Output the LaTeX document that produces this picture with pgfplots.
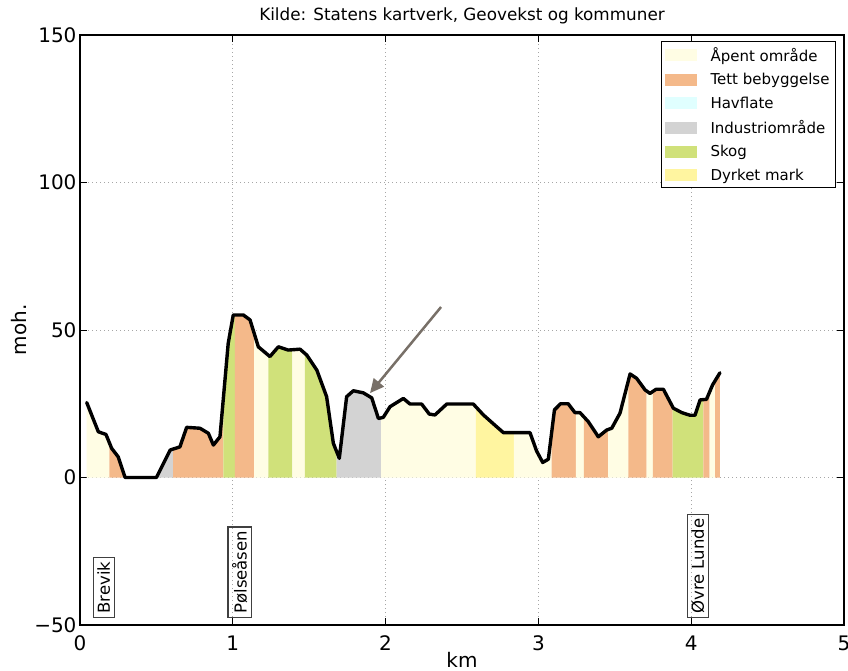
\documentclass[border=0pt]{standalone}
\usepackage{pgfplots}
\pgfplotsset{compat=1.18}
\usepackage{pgfplotstable}
\usepgfplotslibrary{fillbetween}
\usetikzlibrary{arrows.meta}
\usepackage{fontspec}
\setmainfont{DejaVu Sans}
\definecolor{apent}{RGB}{255,253,228}
\definecolor{tett}{RGB}{244,185,138}
\definecolor{hav}{RGB}{224,255,255}
\definecolor{industri}{RGB}{211,211,211}
\definecolor{skog}{RGB}{208,225,122}
\definecolor{dyrket}{RGB}{255,245,160}
\definecolor{arrowc}{RGB}{120,112,104}
\pgfplotstableread{
km elev
0.044 25.4
0.12 15.5
0.17 14.6
0.207 9.9
0.25 7.0
0.295 0.0
0.50 0.0
0.59 9.3
0.654 10.4
0.698 17.0
0.785 16.7
0.84 15.0
0.873 11.0
0.916 13.8
0.97 45.5
1.003 55.1
1.069 55.1
1.113 53.4
1.167 44.3
1.243 41.0
1.298 44.3
1.363 43.2
1.44 43.5
1.484 41.5
1.55 36.4
1.614 27.4
1.658 11.6
1.697 6.5
1.745 27.4
1.789 29.4
1.854 28.7
1.909 27.0
1.953 20.0
1.985 20.4
2.029 24.0
2.116 26.8
2.16 24.9
2.236 24.9
2.286 21.5
2.323 21.2
2.4 24.9
2.574 24.9
2.64 21.2
2.727 17.2
2.771 15.2
2.945 15.2
2.988 9.0
3.028 5.1
3.065 6.2
3.105 22.9
3.145 25.0
3.195 25.0
3.239 22.0
3.272 22.0
3.327 18.9
3.392 13.8
3.447 16.1
3.48 16.7
3.534 21.8
3.6 35.1
3.643 33.6
3.698 29.7
3.73 28.5
3.77 29.9
3.818 29.9
3.883 23.5
3.938 22.0
3.992 21.1
4.025 21.1
4.058 26.3
4.1 26.5
4.14 31.4
4.188 35.5
}\profile
\begin{document}
\begin{tikzpicture}
\begin{axis}[
  set layers,
  scale only axis, width=764pt, height=590pt,
  xmin=0, xmax=5, ymin=-50, ymax=150,
  xtick={0,1,2,3,4,5}, xticklabels={0,1,2,3,4,5},
  ytick={-50,0,50,100,150}, yticklabels={−50,0,50,100,150},
  tick align=inside, major tick length=7pt,
  every tick/.style={black, line width=1pt},
  axis line style={black, line width=1.3pt},
  ticklabel style={font=\fontsize{20}{24}\selectfont},
  xticklabel style={anchor=base, yshift=-25pt},
  grid=major,
  major grid style={gray!70, line width=0.8pt, dash pattern=on 1pt off 3pt},
  xlabel={km}, ylabel={moh.},
  label style={font=\fontsize{20}{24}\selectfont},
  xlabel style={at={(axis description cs:0.5,-0.0725)}, anchor=base, inner sep=0pt},
  ylabel style={at={(axis description cs:-0.0798,0.5)}, anchor=center, rotate=0},
  title={Kilde: Statens kartverk, Geovekst og kommuner},
  title style={font=\fontsize{16.8}{20}\selectfont, at={(axis description cs:0.5,1)}, anchor=base, yshift=8pt},
  legend style={at={(1,1)}, anchor=north east, xshift=-8pt, yshift=-6pt,
    draw=black, line width=1pt, font=\fontsize{15}{18}\selectfont,
    nodes={inner sep=3pt}, row sep=4.5pt, inner xsep=3pt, inner ysep=3pt, cells={anchor=west}},
  legend image code/.code={\fill[#1, draw=none] (0pt,-6pt) rectangle (32pt,6pt); \path[draw=none, fill=none] (0pt,0pt) -- (43pt,0pt);},
]
\addlegendimage{fill=apent}\addlegendentry{Åpent område}
\addlegendimage{fill=tett}\addlegendentry{Tett bebyggelse}
\addlegendimage{fill=hav}\addlegendentry{Havflate}
\addlegendimage{fill=industri}\addlegendentry{Industriområde}
\addlegendimage{fill=skog}\addlegendentry{Skog}
\addlegendimage{fill=dyrket}\addlegendentry{Dyrket mark}

\addplot[draw=none, name path=prof, forget plot] table[x=km, y=elev] {\profile};
\addplot[draw=none, name path=zero, forget plot] coordinates {(0,0) (5,0)};

\addplot[fill=apent, forget plot] fill between[of=prof and zero, soft clip={domain=0.044:0.192}];
\addplot[fill=tett, forget plot] fill between[of=prof and zero, soft clip={domain=0.192:0.28}];
\addplot[fill=industri, forget plot] fill between[of=prof and zero, soft clip={domain=0.50:0.61}];
\addplot[fill=tett, forget plot] fill between[of=prof and zero, soft clip={domain=0.61:0.938}];
\addplot[fill=skog, forget plot] fill between[of=prof and zero, soft clip={domain=0.938:1.014}];
\addplot[fill=tett, forget plot] fill between[of=prof and zero, soft clip={domain=1.014:1.139}];
\addplot[fill=apent, forget plot] fill between[of=prof and zero, soft clip={domain=1.139:1.232}];
\addplot[fill=skog, forget plot] fill between[of=prof and zero, soft clip={domain=1.232:1.39}];
\addplot[fill=apent, forget plot] fill between[of=prof and zero, soft clip={domain=1.39:1.472}];
\addplot[fill=skog, forget plot] fill between[of=prof and zero, soft clip={domain=1.472:1.68}];
\addplot[fill=industri, forget plot] fill between[of=prof and zero, soft clip={domain=1.68:1.97}];
\addplot[fill=apent, forget plot] fill between[of=prof and zero, soft clip={domain=1.97:2.59}];
\addplot[fill=dyrket, forget plot] fill between[of=prof and zero, soft clip={domain=2.59:2.84}];
\addplot[fill=apent, forget plot] fill between[of=prof and zero, soft clip={domain=2.84:3.087}];
\addplot[fill=tett, forget plot] fill between[of=prof and zero, soft clip={domain=3.087:3.246}];
\addplot[fill=apent, forget plot] fill between[of=prof and zero, soft clip={domain=3.246:3.298}];
\addplot[fill=tett, forget plot] fill between[of=prof and zero, soft clip={domain=3.298:3.457}];
\addplot[fill=apent, forget plot] fill between[of=prof and zero, soft clip={domain=3.457:3.588}];
\addplot[fill=tett, forget plot] fill between[of=prof and zero, soft clip={domain=3.588:3.709}];
\addplot[fill=apent, forget plot] fill between[of=prof and zero, soft clip={domain=3.709:3.749}];
\addplot[fill=tett, forget plot] fill between[of=prof and zero, soft clip={domain=3.749:3.879}];
\addplot[fill=skog, forget plot] fill between[of=prof and zero, soft clip={domain=3.879:4.08}];
\addplot[fill=tett, forget plot] fill between[of=prof and zero, soft clip={domain=4.08:4.12}];
\addplot[fill=apent, forget plot] fill between[of=prof and zero, soft clip={domain=4.12:4.157}];
\addplot[fill=tett, forget plot] fill between[of=prof and zero, soft clip={domain=4.157:4.188}];

\addplot[black, line width=3.4pt, line join=round, line cap=round, forget plot] table[x=km, y=elev] {\profile};

\draw[arrowc, line width=2.5pt, -{Triangle[length=14pt,width=13pt]}] (axis cs:2.363,57.8) -- (axis cs:1.898,28.6);

\node[draw=black!75, line width=1.2pt, rotate=90, anchor=west, inner xsep=4pt, inner ysep=4pt, font=\fontsize{16.5}{19}\selectfont] at (axis cs:0.156,-47.7) {Brevik};
\node[draw=black!75, line width=1.2pt, rotate=90, anchor=west, inner xsep=4pt, inner ysep=4pt, font=\fontsize{16.5}{19}\selectfont] at (axis cs:1.045,-47.7) {Pølseåsen};
\node[draw=black!75, line width=1.2pt, rotate=90, anchor=west, inner xsep=4pt, inner ysep=4pt, font=\fontsize{16.5}{19}\selectfont] at (axis cs:4.044,-47.7) {Øvre Lunde};
\end{axis}
\pgfresetboundingbox
\path (-80pt,-45pt) rectangle (768pt,625pt);
\end{tikzpicture}
\end{document}
